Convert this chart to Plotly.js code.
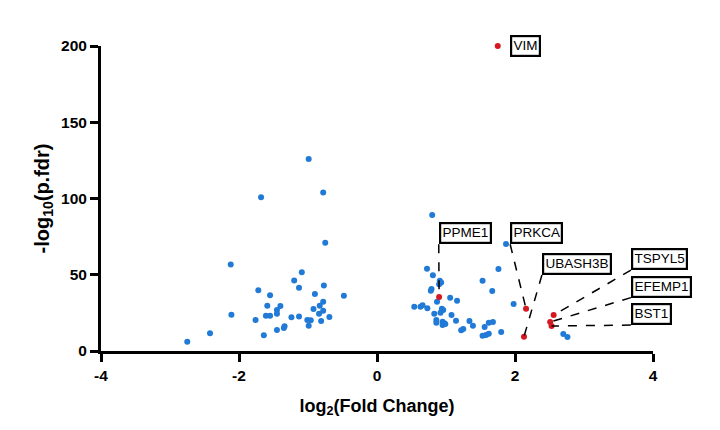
<!DOCTYPE html>
<html>
<head>
<meta charset="utf-8">
<script src="https://cdn.plot.ly/plotly-3.0.1.min.js"></script>
<style>html,body{margin:0;padding:0;background:#fff;}#chart{width:720px;height:430px;}</style>
</head>
<body>
<div id="chart"></div>
<script>
// Non-highlighted genes: log2 fold change and -log10(p.fdr)
const otherFC = [
  -0.99,-0.78,-1.68,-0.75,-2.12,-1.09,-1.20,-0.77,-1.13,-1.72,-1.55,-0.90,-0.48,-1.59,-1.40,-0.78,-0.83,-1.45,-1.45,-0.92,-0.78,
  -2.11,-1.61,-1.55,-0.84,-1.24,-1.13,-0.69,-1.76,-1.01,-0.96,-0.81,-0.99,-1.34,-1.35,-1.45,-1.64,-2.42,-2.75,
  0.80,1.87,0.725,0.81,0.91,0.93,0.90,1.76,1.53,0.79,0.78,1.67,1.06,1.16,0.87,1.98,0.54,0.63,0.66,0.73,
  0.94,0.96,0.92,0.83,1.08,0.86,0.86,0.95,0.975,0.95,0.99,1.145,1.34,1.39,1.22,1.25,1.62,1.68,1.56,
  1.53,1.58,1.62,1.80,2.70,2.76
];
const otherP = [
  125.9,104,100.8,71,56.8,51.6,46.3,43,41.5,39.8,36.5,37.4,36.3,29.7,29.5,32.3,29.7,26.9,24.5,27.5,26.4,
  23.8,23.1,23.1,24.5,22.1,22.7,22.3,20.3,20.3,20.1,19.7,16.6,16.2,15.1,13.8,10.3,11.6,6.1,
  89.2,70.2,54,49.6,46.1,45,43.7,53.8,46.1,40.7,39.5,39.3,35,33,32.3,30.8,29,29,30,28,
  27.7,26.9,25.1,24.5,23.6,20.3,18.6,19.2,18.2,17,17.7,19.9,19.7,16.6,13.6,14.4,18.6,19,15.7,
  10,10.5,11.3,12.5,11.1,9.2
];

// Highlighted genes
const hiGenes = ["VIM","PPME1","PRKCA","UBASH3B","TSPYL5","EFEMP1","BST1"];
const hiFC    = [1.75, 0.90, 2.16, 2.13, 2.56, 2.51, 2.53];
const hiP     = [200, 35.4, 27.7, 9.4, 23.6, 19.0, 16.4];

// Tick values
const xTicks = [-4,-2,0,2,4];
const yTicks = [0,50,100,150,200];

// Label box placement (bottom-left corner of each box, data units) and whether a leader line is drawn
const labelPlacement = {
  VIM:     {x:1.93, y:200, anchorY:"middle", leader:false},
  PPME1:   {x:0.895, y:70,  anchorY:"bottom", leader:true},
  PRKCA:   {x:1.93, y:70,   anchorY:"bottom", leader:true},
  UBASH3B: {x:2.39, y:49.8, anchorY:"bottom", leader:true},
  TSPYL5:  {x:3.68, y:53,   anchorY:"bottom", leader:true},
  EFEMP1:  {x:3.68, y:35,   anchorY:"bottom", leader:true},
  BST1:    {x:3.68, y:17,   anchorY:"bottom", leader:true}
};

const FONT = "Liberation Sans, Arial, Helvetica, sans-serif";

const traces = [
  {
    x: otherFC, y: otherP, type: "scatter", mode: "markers",
    marker: {color: "rgb(32,122,214)", size: 6},
    cliponaxis: false, hoverinfo: "skip"
  },
  {
    x: hiFC, y: hiP, type: "scatter", mode: "markers",
    marker: {color: "rgb(214,24,32)", size: 6},
    cliponaxis: false, hoverinfo: "skip"
  }
];

const annotations = [];
const shapes = [];
hiGenes.forEach((g, i) => {
  const p = labelPlacement[g];
  annotations.push({
    x: p.x, y: p.y, xref: "x", yref: "y",
    text: g, showarrow: false,
    xanchor: "left", yanchor: p.anchorY,
    font: {family: FONT, size: 13.5, color: "#000"},
    bgcolor: "#fff", bordercolor: "#000", borderwidth: 2.2, borderpad: 1.2
  });
  if (p.leader) {
    shapes.push({
      type: "line", xref: "x", yref: "y",
      x0: p.x, y0: p.y, x1: hiFC[i], y1: hiP[i],
      line: {color: "#000", width: 1.5, dash: "dash"}
    });
  }
});

const layout = {
  width: 720, height: 430,
  margin: {l: 101, r: 67, t: 46, b: 79},
  paper_bgcolor: "#fff", plot_bgcolor: "#fff",
  showlegend: false,
  font: {family: FONT, color: "#000"},
  xaxis: {
    range: [-4, 4], tickvals: xTicks, ticktext: xTicks.map(String),
    showgrid: false, zeroline: false, showline: true,
    linecolor: "#000", linewidth: 3,
    ticks: "outside", ticklen: 8, tickwidth: 3, tickcolor: "#000",
    tickfont: {family: FONT, size: 15.5, weight: "bold", color: "#000"},
    title: {text: "log<sub>2</sub>(Fold Change)", font: {family: FONT, size: 18, weight: "bold", color: "#000"}, standoff: 17}
  },
  yaxis: {
    range: [0, 200], tickvals: yTicks, ticktext: yTicks.map(String),
    showgrid: false, zeroline: false, showline: true,
    linecolor: "#000", linewidth: 3,
    ticks: "outside", ticklen: 8, tickwidth: 3, tickcolor: "#000",
    tickfont: {family: FONT, size: 15.5, weight: "bold", color: "#000"},
    title: {text: "-log<sub>10</sub>(p.fdr)", font: {family: FONT, size: 20, weight: "bold", color: "#000"}, standoff: 7}
  },
  annotations: annotations,
  shapes: shapes
};

Plotly.newPlot("chart", traces, layout, {staticPlot: true, displayModeBar: false});
</script>
</body>
</html>
